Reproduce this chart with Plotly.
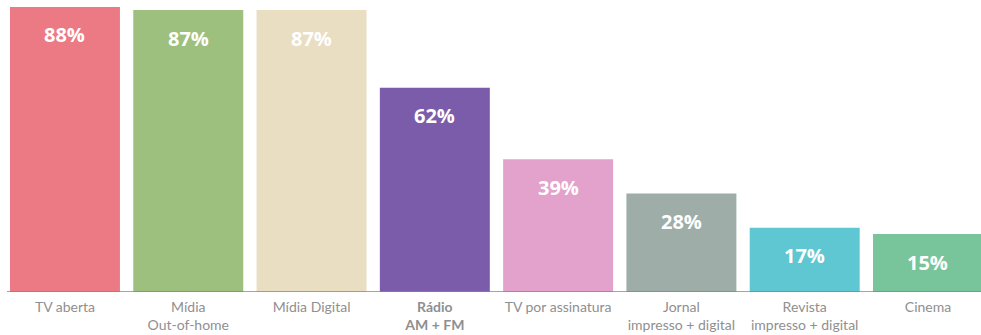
import plotly.graph_objects as go

# Media reach by channel (%)
categories = [
    "TV aberta",
    "Mídia<br>Out-of-home",
    "Mídia Digital",
    "<b>Rádio<br>AM + FM</b>",
    "TV por assinatura",
    "Jornal<br>impresso + digital",
    "Revista<br>impresso + digital",
    "Cinema",
]
values = [88, 87, 87, 62, 39, 28, 17, 15]
colors = ["#EC7A84", "#9DC07E", "#E9DDC2", "#7A5CAA",
          "#E3A2CB", "#9EADA7", "#5EC7D2", "#79C59B"]

FLOOR = -3.65  # axis floor where bars sit
Y_TOP = 90.24

x = list(range(len(categories)))

fig = go.Figure()
fig.add_trace(go.Bar(
    x=x,
    y=[v - FLOOR for v in values],
    base=FLOOR,
    marker=dict(color=colors, line=dict(width=0)),
    hoverinfo="skip",
))

for i, v in enumerate(values):
    fig.add_annotation(
        x=i, y=v, text=f"<b>{v}%</b>", showarrow=False,
        yshift=-28, font=dict(family="Open Sans", size=20, color="white"),
    )

# baseline under the bars
fig.add_shape(type="line", x0=-0.47, x1=7.45, y0=FLOOR, y1=FLOOR,
              line=dict(color="#8a8580", width=1.5), layer="above")

fig.update_layout(
    width=981, height=335,
    margin=dict(l=0, r=0, t=0, b=43),
    paper_bgcolor="white", plot_bgcolor="white",
    bargap=0.108,
    showlegend=False,
    xaxis=dict(
        range=[-0.527, 7.43],
        tickmode="array", tickvals=x, ticktext=categories,
        showgrid=False, zeroline=False, showline=False, ticks="",
        ticklabelstandoff=5,
        tickfont=dict(family="Lato", size=14, color="#8f8f8f"),
    ),
    yaxis=dict(range=[FLOOR, Y_TOP], visible=False, showgrid=False, zeroline=False),
)

fig.write_html("out.html")
